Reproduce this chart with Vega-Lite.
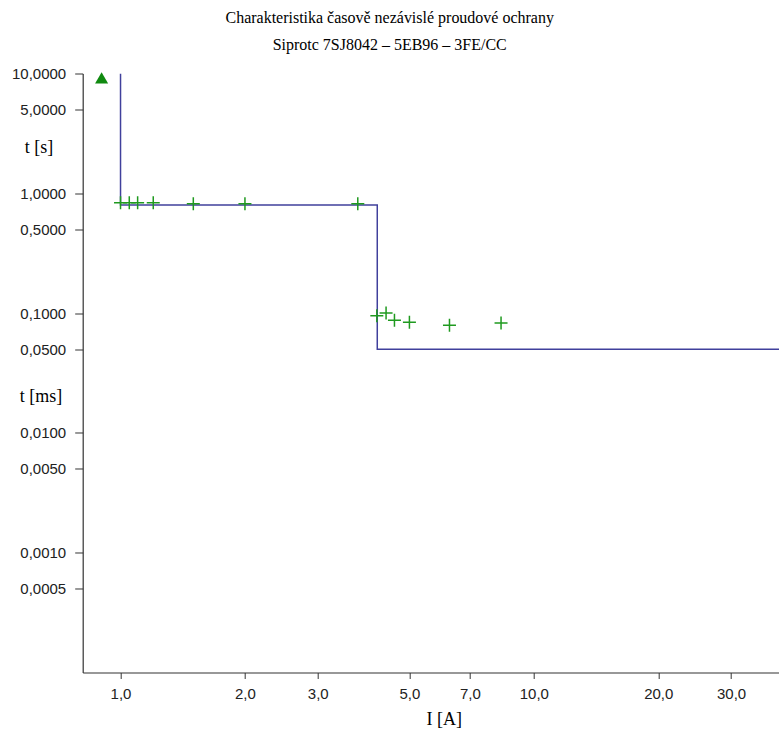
{
  "$schema": "https://vega.github.io/schema/vega-lite/v6.json",
  "width": 700,
  "height": 599,
  "autosize": {"type": "none"},
  "padding": {"left": 82.7, "top": 73.5, "right": 0, "bottom": 56.5},
  "background": "white",
  "title": {
    "text": ["Charakteristika časově nezávislé proudové ochrany", "Siprotc 7SJ8042 – 5EB96 – 3FE/CC"],
    "font": "Liberation Serif",
    "fontSize": 16,
    "fontWeight": "normal",
    "color": "black",
    "lineHeight": 27,
    "anchor": "middle",
    "dx": -43,
    "offset": 13.5
  },
  "config": {"view": {"stroke": null}},
  "datasets": {
    "curve": [
      {"i": 0, "I": 1.0, "t": 10},
      {"i": 1, "I": 1.0, "t": 0.8},
      {"i": 2, "I": 4.18, "t": 0.8},
      {"i": 3, "I": 4.18, "t": 0.05},
      {"i": 4, "I": 40, "t": 0.05}
    ],
    "meas": [
      {"I": 1.0, "t": 0.835},
      {"I": 1.05, "t": 0.835},
      {"I": 1.1, "t": 0.835},
      {"I": 1.2, "t": 0.835},
      {"I": 1.5, "t": 0.82},
      {"I": 2.0, "t": 0.82},
      {"I": 3.75, "t": 0.82},
      {"I": 4.17, "t": 0.095},
      {"I": 4.39, "t": 0.1},
      {"I": 4.6, "t": 0.087},
      {"I": 5.0, "t": 0.084},
      {"I": 6.25, "t": 0.079},
      {"I": 8.33, "t": 0.0825}
    ],
    "trip": [{"I": 0.9, "t": 9.2}],
    "yticks": [
      {"t": 10}, {"t": 5}, {"t": 1}, {"t": 0.5}, {"t": 0.1}, {"t": 0.05},
      {"t": 0.01}, {"t": 0.005}, {"t": 0.001}, {"t": 0.0005}
    ]
  },
  "encoding": {
    "x": {
      "field": "I",
      "type": "quantitative",
      "scale": {"type": "log", "domain": [0.81, 40], "nice": false},
      "axis": {
        "values": [1, 2, 3, 5, 7, 10, 20, 30],
        "labelExpr": "replace(format(datum.value, '.1f'), '.', ',')",
        "grid": false,
        "title": "I [A]",
        "titleFont": "Liberation Serif",
        "titleFontSize": 18,
        "titleFontWeight": "normal",
        "titleColor": "black",
        "titleX": 361,
        "titleY": 38,
        "titleBaseline": "top",
        "domainColor": "#333",
        "domainWidth": 1.2,
        "tickColor": "#333",
        "tickSize": 6,
        "labelFont": "Liberation Sans",
        "labelFontSize": 15,
        "labelColor": "#222",
        "labelPadding": 8,
        "labelFlush": false,
        "labelOverlap": false
      }
    },
    "y": {
      "field": "t",
      "type": "quantitative",
      "scale": {"type": "log", "domain": [0.0001, 10], "nice": false},
      "axis": {
        "values": [0.0005, 0.001, 0.005, 0.01, 0.02, 0.05, 0.1, 0.5, 1, 2.4, 5, 10],
        "labelExpr": "datum.value == 2.4 ? 't [s]' : datum.value == 0.02 ? 't [ms]' : replace(format(datum.value, '.4f'), '.', ',')",
        "grid": false,
        "title": null,
        "domainColor": "#333",
        "domainWidth": 1.2,
        "tickSize": 8,
        "tickColor": {"condition": {"test": "datum.value == 2.4 || datum.value == 0.02", "value": "transparent"}, "value": "#333"},
        "labelFont": {"condition": {"test": "datum.value == 2.4 || datum.value == 0.02", "value": "Liberation Serif"}, "value": "Liberation Sans"},
        "labelFontSize": {"condition": {"test": "datum.value == 2.4 || datum.value == 0.02", "value": 18}, "value": 15},
        "labelColor": {"condition": {"test": "datum.value == 2.4 || datum.value == 0.02", "value": "black"}, "value": "#222"},
        "labelPadding": {"condition": [{"test": "datum.value == 2.4", "value": 22}, {"test": "datum.value == 0.02", "value": 13}], "value": 9},
        "labelOverlap": false
      }
    }
  },
  "layer": [
    {
      "data": {"name": "curve"},
      "mark": {"type": "line", "color": "#40409c", "strokeWidth": 1.5, "clip": true},
      "encoding": {"order": {"field": "i", "type": "quantitative"}}
    },
    {
      "data": {"name": "meas"},
      "mark": {"type": "point", "shape": "M-1,0H1M0,-1V1", "filled": false, "stroke": "#1f9a1f", "strokeWidth": 1.5, "size": 169, "opacity": 1}
    },
    {
      "data": {"name": "trip"},
      "mark": {"type": "point", "shape": "triangle-up", "filled": true, "color": "#108a10", "size": 170, "opacity": 1}
    },
    {
      "data": {"name": "yticks"},
      "mark": {"type": "tick", "orient": "horizontal", "color": "#333", "thickness": 1, "size": 15},
      "encoding": {"x": {"datum": 0.81}}
    }
  ]
}
